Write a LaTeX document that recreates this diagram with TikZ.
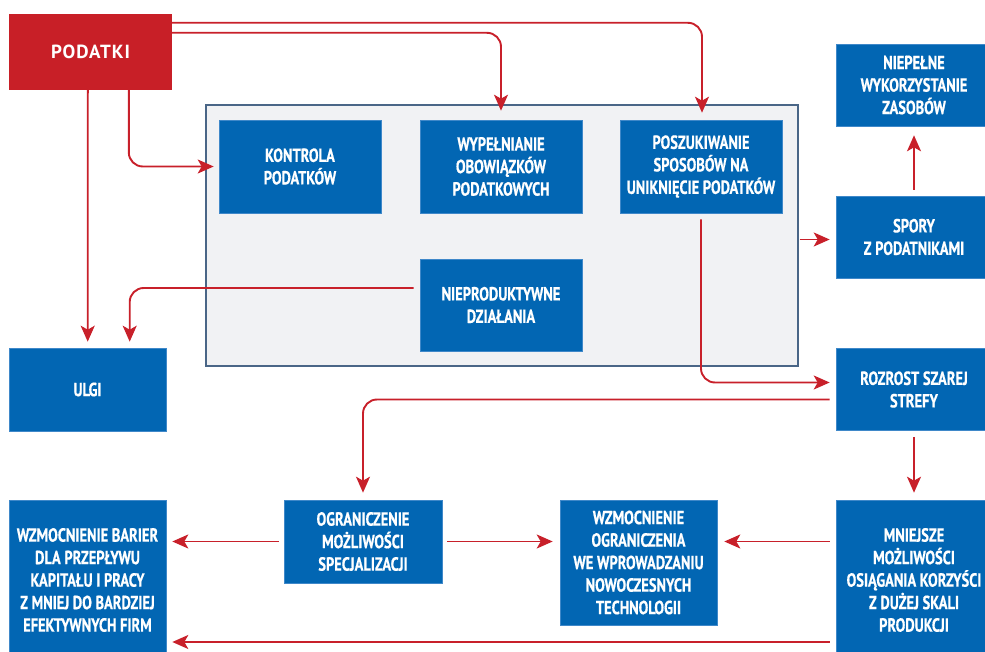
\documentclass[tikz,border=0pt]{standalone}
\usepackage{fontspec}
\setmainfont{PT Sans}
\newfontfamily\condfont[FakeStretch=0.76,FakeBold=0.6]{PT Sans Bold}
\newfontfamily\headfont[LetterSpace=5]{PT Sans Bold}
\usetikzlibrary{arrows.meta}
\definecolor{boxblue}{HTML}{0266B3}
\definecolor{boxedge}{HTML}{3F88C9}
\definecolor{taxred}{HTML}{C81F27}
\definecolor{arrred}{HTML}{C8202A}
\definecolor{panelfill}{HTML}{F1F2F4}
\definecolor{panelline}{HTML}{4A6687}
\begin{document}
\begin{tikzpicture}[x=1pt,y=-1pt,
  bluebox/.style={fill=boxblue, draw=boxedge, line width=0.6pt, text=white,
    align=center, inner sep=0pt,
    font=\condfont\fontsize{19}{22.5}\selectfont},
  rightbox/.style={bluebox, minimum width=156pt, minimum height=82pt},
  flow/.style={draw=arrred, line width=1.9pt, rounded corners=14pt,
    -{Stealth[length=16pt,width=14pt,inset=4pt]}}]
\useasboundingbox (0,0) rectangle (985,652);
\clip (0,0) rectangle (985,652);

% source of all flows
\node[fill=taxred, text=white, minimum width=163pt, minimum height=76pt,
  inner sep=0pt, font=\headfont\fontsize{19}{24}\selectfont]
  (podatki) at (90.5,52) {PODATKI};

% grey panel with the administrative activities
\node[fill=panelfill, draw=panelline, line width=1.4pt,
  minimum width=592pt, minimum height=261pt] (panel) at (502,235.5) {};
\node[bluebox, minimum width=162pt, minimum height=93pt] (kontrola) at (300,166.5)
  {KONTROLA\\PODATKÓW};
\node[bluebox, minimum width=162pt, minimum height=93pt] (wyp) at (501,166.5)
  {WYPEŁNIANIE\\OBOWIĄZKÓW\\PODATKOWYCH};
\node[bluebox, minimum width=162pt, minimum height=93pt] (posz) at (701,166.5)
  {POSZUKIWANIE\\SPOSOBÓW NA\\UNIKNIĘCIE PODATKÓW};
\node[bluebox, minimum width=162pt, minimum height=92pt] (niep) at (501,305)
  {NIEPRODUKTYWNE\\DZIAŁANIA};

% right column
\node[rightbox] (niepelne) at (914,85) {NIEPEŁNE\\WYKORZYSTANIE\\ZASOBÓW};
\node[rightbox] (spory) at (914,237) {SPORY\\Z PODATNIKAMI};
\node[rightbox] (rozrost) at (914,389.5) {ROZROST SZAREJ\\STREFY};
\node[bluebox, minimum width=156pt, minimum height=160pt] (mniejsze) at (914,580)
  {MNIEJSZE\\MOŻLIWOŚCI\\OSIĄGANIA KORZYŚCI\\Z DUŻEJ SKALI\\PRODUKCJI};

% left column
\node[bluebox, minimum width=157pt, minimum height=83pt] (ulgi) at (87.5,389.5) {ULGI};
\node[bluebox, minimum width=157pt, minimum height=160pt] (barier) at (87.5,580)
  {WZMOCNIENIE BARIER\\DLA PRZEPŁYWU\\KAPITAŁU I PRACY\\Z MNIEJ DO BARDZIEJ\\EFEKTYWNYCH FIRM};

% bottom middle
\node[bluebox, minimum width=158pt, minimum height=83pt] (ogr) at (363,541.5)
  {OGRANICZENIE\\MOŻLIWOŚCI\\SPECJALIZACJI};
\node[bluebox, minimum width=157pt, minimum height=125pt] (wzm) at (638.5,562.5)
  {WZMOCNIENIE\\OGRANICZENIA\\WE WPROWADZANIU\\NOWOCZESNYCH\\TECHNOLOGII};

% flows
\draw[flow] ([xshift=120pt]podatki.south west) |- ([xshift=-5pt]kontrola.west);
\draw[flow] ([xshift=79pt]podatki.south west) -- ([xshift=79pt,yshift=6pt]ulgi.north west);
\draw[flow] ([yshift=-19pt]podatki.north east) -| ([yshift=9pt]wyp.north);
\draw[flow] ([yshift=-9pt]podatki.north east) -| ([xshift=1pt,yshift=7pt]posz.north);
\draw[flow] ([xshift=-6pt,yshift=17pt]niep.west) -| ([xshift=121pt,yshift=6pt]ulgi.north west);
\draw[flow] ([yshift=-6pt]posz.south) |- ([xshift=-6pt,yshift=7pt]rozrost.west);
\draw[flow, shorten <=1pt, shorten >=6pt] ([yshift=-4pt]panel.east) -- ([yshift=-4pt]panel.east -| spory.west);
\draw[flow] ([yshift=6pt]spory.north) -- ([yshift=-9pt]niepelne.south);
\draw[flow] ([xshift=-6pt,yshift=-10pt]rozrost.west) -| ([yshift=7pt]ogr.north);
\draw[flow] ([yshift=-6pt]rozrost.south) -- ([yshift=7pt]mniejsze.north);
\draw[flow, shorten <=5pt, shorten >=6pt] (ogr.west) -- (ogr.west -| barier.east);
\draw[flow, shorten <=5pt, shorten >=7pt] (ogr.east) -- (ogr.east -| wzm.west);
\draw[flow, shorten <=6pt, shorten >=7pt] (ogr.east -| mniejsze.west) -- (ogr.east -| wzm.east);
\draw[flow, shorten <=6pt, shorten >=6pt] ([yshift=-62pt]mniejsze.west) -- ([yshift=-62pt]mniejsze.west -| barier.east);
\end{tikzpicture}
\end{document}
